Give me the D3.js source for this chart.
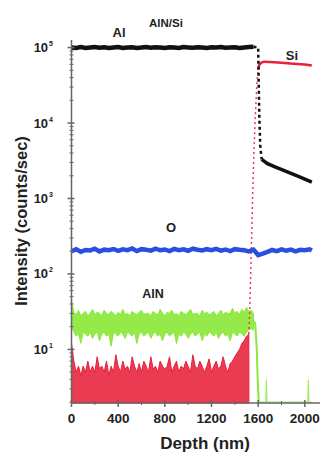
<!DOCTYPE html>
<html>
<head>
<meta charset="utf-8">
<script src="https://cdn.jsdelivr.net/npm/d3@7"></script>
<style>
  html, body { margin: 0; padding: 0; background: #fff; }
  svg { display: block; font-family: "Liberation Sans", Arial, sans-serif; }
</style>
</head>
<body>
<svg id="chart" width="325" height="460"></svg>
<script>
// depth grids (nm)
const fineDepth = [0,20,40,60,80,100,120,140,160,180,
  200,220,240,260,280,300,320,340,360,380,
  400,420,440,460,480,500,520,540,560,580,
  600,620,640,660,680,700,720,740,760,780,
  800,820,840,860,880,900,920,940,960,980,
  1000,1020,1040,1060,1080,1100,1120,1140,1160,1180,
  1200,1220,1240,1260,1280,1300,1320,1340,1360,1380,
  1400,1420,1440,1460,1480,1500,1520,1540,1560];
const coarseDepth = [0,40,80,120,160,200,240,280,320,360,
  400,440,480,520,560,600,640,680,720,760,
  800,840,880,920,960,1000,1040,1080,1120,1160,
  1200,1240,1280,1320,1360,1400,1440,1480,1520,1560];
const oDepth = coarseDepth.concat([1600,1640,1680,1720,1760,1800,1840,1880,1920,1960,2000,2040,2060]);

// Al (black) plateau in the AlN layer
const alCounts = [100500,99000,101500,99000,100500,102000,99500,101000,98500,100000,
  101500,99000,100500,101000,99000,100000,101500,99500,101000,100500,
  99000,101000,100000,99000,101500,100500,99500,101000,100000,99000,
  101000,100000,101500,99500,100500,101000,99000,100500,101500,102500];
const alDropDepth = [1560,1600,1604,1610,1618,1630];
const alDropCounts = [102500,100000,40000,12000,5000,3300];
const alTailDepth = [1630,1680,1750,1850,1950,2060];
const alTailCounts = [3300,2900,2600,2250,1950,1650];

// Si (red)
const siNoise = [12,7,5,6,4.5,6,5,7,5,6,
  5,8,5.5,6,5,7,4.5,6,5,8.5,
  6,5,7,5.5,6,5,8,6,5,6.5,
  5,7,6,5,8,5.5,6,5,7,6,
  5.5,6,8,5,6,7,5,6,5.5,7,
  6,5,8.5,6,5.5,7,6,5,6,7.5,
  5,6,7,5.5,6,8,6,5,6.5,7,
  8,9,10,12,13,15,16];
const siRiseDepth = [1520,1528,1536,1544,1552,1562,1575,1590,1600];
const siRiseCounts = [16,35,100,300,1000,3500,12000,35000,52000];
const siDepth = [1600,1610,1625,1650,1700,1800,1900,2000,2060];
const siCounts = [52000,59000,63000,65000,64500,63000,61000,59500,58000];

// O (blue)
const oCounts = [200,212,197,208,205,216,199,210,206,214,
  202,212,207,218,201,213,209,204,216,206,
  211,201,215,207,212,203,216,209,205,213,
  207,215,204,211,201,213,209,206,199,210,
  178,186,196,208,201,212,204,210,199,209,
  206,212,204];

// AlN (green) band, upper and lower edge
const alnHigh = [45,31,29,33,28,30,32,28,30,34,
  29,31,30,28,33,30,29,32,30,28,
  31,29,34,29,30,28,32,30,29,31,
  33,29,30,30,28,32,30,29,34,30,
  28,31,30,33,29,30,28,32,30,29,
  31,34,29,30,30,28,33,30,31,29,
  30,32,28,30,33,29,31,30,30,35,
  30,32,29,34,31,36,32,33,30];
const alnLow = [20,17,15,16,12,17,16,15,17,14,
  16,17,13,16,17,15,16,11,17,16,
  15,17,16,14,17,16,15,17,12,16,
  17,15,16,17,14,16,17,15,16,13,
  16,17,15,16,17,12,16,15,17,16,
  14,16,17,15,16,17,13,16,15,17,
  16,15,17,14,16,17,15,16,13,17,
  16,15,17,16,15,17,18,19,18];
const alnDropDepth = [1560,1575,1588,1596,1605];
const alnDropCounts = [24,22,10,4,2];
const alnTailDepth = [1605,1640,1665,1670,1675,1720,1800,1880,1960,2025,2030,2035,2060];
const alnTailCounts = [2,2,2,4,2,2,2,2,2,2,4,2,2];

const xTicks = [0,400,800,1200,1600,2000];
const yMajor = [10,100,1000,10000,100000];

const svg = d3.select('#chart');
const x = d3.scaleLinear().domain([0, 2130]).range([71.5, 320]);
const y = d3.scaleLog().domain([1.95, 126000]).range([403, 40]);

const pts = (xs, ys) => ys.map((v, i) => [xs[i], v]);
const line = d3.line().x(d => x(d[0])).y(d => y(d[1]));

// Si noise near the bottom
svg.append('path')
  .datum(pts(fineDepth, siNoise))
  .attr('fill', '#e8203a')
  .attr('fill-opacity', 0.88)
  .attr('stroke', '#e8203a')
  .attr('stroke-width', 1)
  .attr('d', d3.area().x(d => x(d[0])).y0(y(1.95)).y1(d => y(d[1])));

// AlN band
svg.append('path')
  .datum(fineDepth.map((d, i) => [d, alnLow[i], alnHigh[i]]))
  .attr('fill', '#8ae83a')
  .attr('fill-opacity', 0.92)
  .attr('stroke', '#8ae83a')
  .attr('stroke-width', 1)
  .attr('d', d3.area().x(d => x(d[0])).y0(d => y(d[1])).y1(d => y(d[2])));
svg.append('path').datum(pts(alnDropDepth, alnDropCounts))
  .attr('fill', 'none').attr('stroke', '#8ae83a').attr('stroke-width', 2).attr('d', line);
svg.append('path').datum(pts(alnTailDepth, alnTailCounts))
  .attr('fill', 'none').attr('stroke', '#a8e870').attr('stroke-width', 1.2).attr('d', line);

// Si rise (sparse points) and Si substrate level
svg.append('path').datum(pts(siRiseDepth, siRiseCounts))
  .attr('fill', 'none').attr('stroke', '#e83a5a').attr('stroke-width', 1.5)
  .attr('stroke-dasharray', '2,3').attr('d', line);
svg.append('path').datum(pts(siDepth, siCounts))
  .attr('fill', 'none').attr('stroke', '#e8203a').attr('stroke-width', 2.5).attr('d', line);

// O
svg.append('path').datum(pts(oDepth, oCounts))
  .attr('fill', 'none').attr('stroke', '#2a4fe0').attr('stroke-width', 4.5).attr('d', line);

// Al
svg.append('path').datum(pts(coarseDepth, alCounts))
  .attr('fill', 'none').attr('stroke', '#111').attr('stroke-width', 4.5).attr('d', line);
svg.append('path').datum(pts(alDropDepth, alDropCounts))
  .attr('fill', 'none').attr('stroke', '#111').attr('stroke-width', 2.5)
  .attr('stroke-dasharray', '3,3').attr('d', line);
svg.append('path').datum(pts(alTailDepth, alTailCounts))
  .attr('fill', 'none').attr('stroke', '#111').attr('stroke-width', 3.5).attr('d', line);

// axes
const axisColor = '#666';
const x0 = x(0), yb = y(1.95);
svg.append('line').attr('x1', x0).attr('x2', x0).attr('y1', y(126000)).attr('y2', yb)
  .attr('stroke', axisColor).attr('stroke-width', 1.5);
svg.append('line').attr('x1', x0).attr('x2', x(2130)).attr('y1', yb).attr('y2', yb)
  .attr('stroke', axisColor).attr('stroke-width', 1.5);

const yMinor = [];
yMajor.concat([1]).forEach(m => d3.range(2, 10).forEach(k => {
  const v = m * k;
  if (v >= 1.95 && v <= 126000) yMinor.push(v);
}));
svg.selectAll('.ymin').data(yMinor).enter().append('line')
  .attr('x1', x0 - 2).attr('x2', x0 + 2)
  .attr('y1', d => y(d)).attr('y2', d => y(d))
  .attr('stroke', axisColor).attr('stroke-width', 1);
svg.selectAll('.ymaj').data(yMajor).enter().append('line')
  .attr('x1', x0 - 4).attr('x2', x0 + 3)
  .attr('y1', d => y(d)).attr('y2', d => y(d))
  .attr('stroke', axisColor).attr('stroke-width', 1.5);

const yl = svg.selectAll('.ylab').data(yMajor).enter().append('text')
  .attr('x', 53).attr('y', d => y(d) + 4.5)
  .attr('text-anchor', 'end')
  .attr('font-size', 13).attr('font-weight', 'bold').attr('fill', '#222');
yl.append('tspan').text('10');
yl.append('tspan').attr('font-size', 7).attr('dy', -6).attr('dx', 1)
  .text(d => Math.round(Math.log10(d)));

const xMinor = [200,600,1000,1400,1800];
svg.selectAll('.xmin').data(xMinor).enter().append('line')
  .attr('x1', d => x(d)).attr('x2', d => x(d))
  .attr('y1', yb - 2).attr('y2', yb + 2)
  .attr('stroke', axisColor).attr('stroke-width', 1);
svg.selectAll('.xmaj').data(xTicks).enter().append('line')
  .attr('x1', d => x(d)).attr('x2', d => x(d))
  .attr('y1', yb - 3).attr('y2', yb + 4)
  .attr('stroke', axisColor).attr('stroke-width', 1.5);
svg.selectAll('.xlab').data(xTicks).enter().append('text')
  .attr('x', d => x(d)).attr('y', 423)
  .attr('text-anchor', 'middle')
  .attr('font-size', 13.5).attr('font-weight', 'bold').attr('fill', '#222')
  .text(d => d);

// titles
svg.append('text').attr('x', 205).attr('y', 449)
  .attr('text-anchor', 'middle').attr('font-size', 17).attr('font-weight', 'bold').attr('fill', '#222')
  .text('Depth (nm)');
svg.append('text').attr('transform', 'translate(27,221) rotate(-90)')
  .attr('text-anchor', 'middle').attr('font-size', 16.5).attr('font-weight', 'bold').attr('fill', '#222')
  .text('Intensity (counts/sec)');

// series labels
const labels = [
  { t: 'Al', x: 119, y: 37, s: 13 },
  { t: 'AlN/Si', x: 166, y: 27, s: 11.5 },
  { t: 'Si', x: 292, y: 60, s: 13 },
  { t: 'O', x: 171, y: 232, s: 13 },
  { t: 'AlN', x: 153, y: 298, s: 12.5 }
];
svg.selectAll('.lab').data(labels).enter().append('text')
  .attr('x', d => d.x).attr('y', d => d.y)
  .attr('text-anchor', 'middle').attr('font-size', d => d.s)
  .attr('font-weight', 'bold').attr('fill', '#222')
  .text(d => d.t);
</script>
</body>
</html>
